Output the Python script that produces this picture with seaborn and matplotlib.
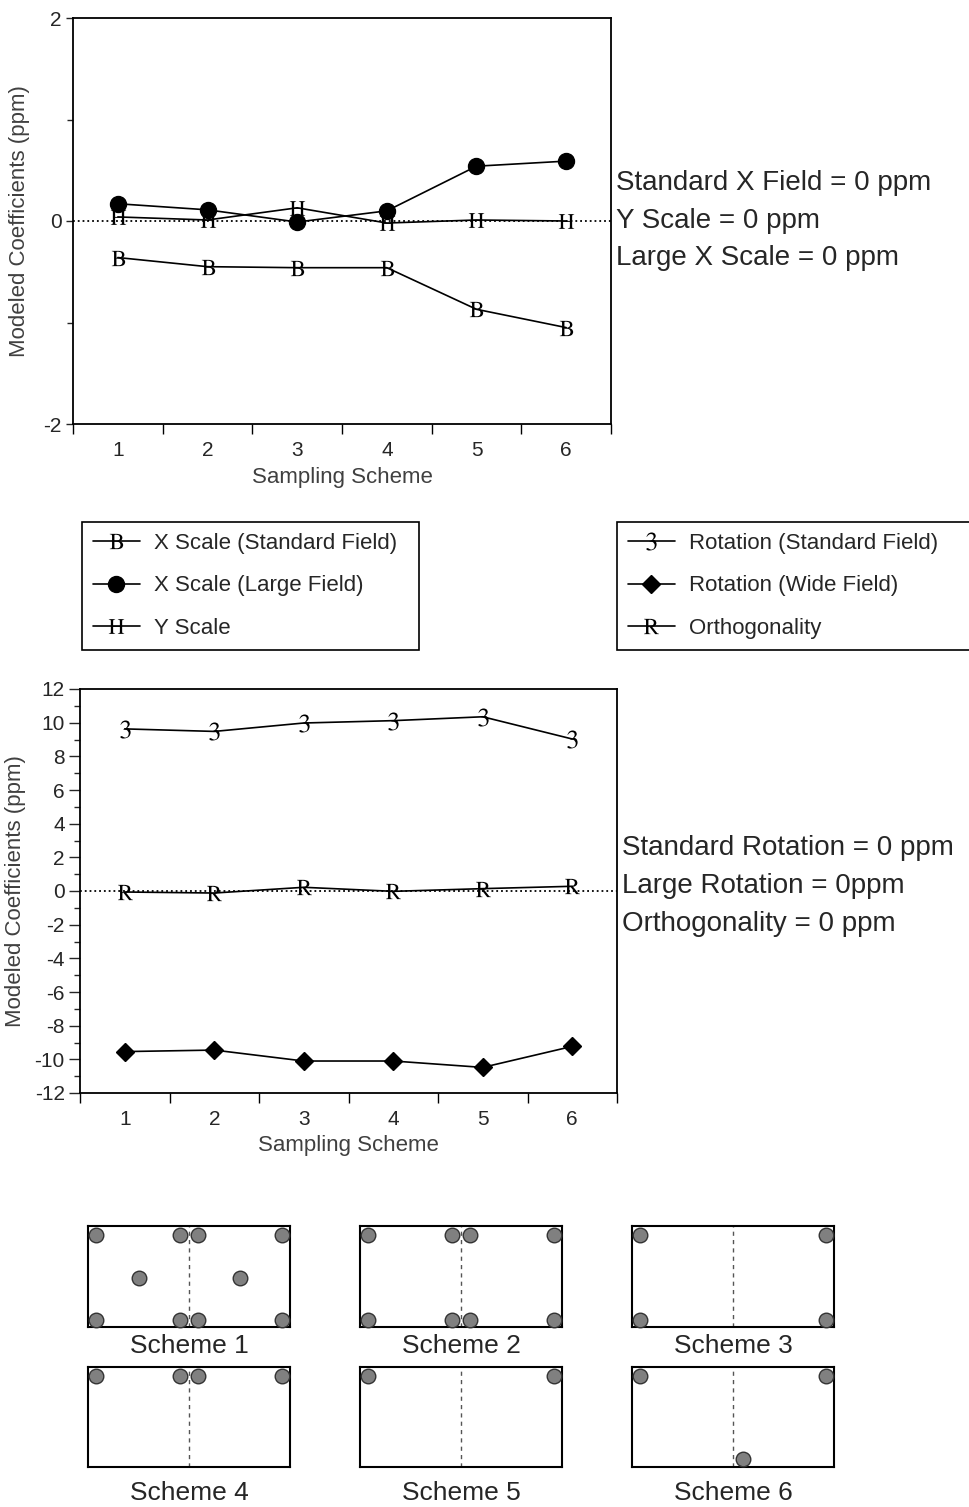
import matplotlib
matplotlib.use('Agg')
import matplotlib.pyplot as plt
import seaborn as sns

sns.set_theme(style='ticks')
plt.rcParams['font.family'] = ['Liberation Sans', 'DejaVu Sans']
plt.rcParams['mathtext.fontset'] = 'stix'
plt.rcParams['axes.unicode_minus'] = False

# data
schemes = [1, 2, 3, 4, 5, 6]
x_scale_std = [-0.36, -0.45, -0.46, -0.46, -0.87, -1.05]
x_scale_large = [0.17, 0.11, -0.01, 0.10, 0.54, 0.59]
y_scale = [0.04, 0.01, 0.13, -0.02, 0.01, 0.00]
rot_std = [9.63, 9.48, 9.98, 10.12, 10.35, 9.03]
rot_wide = [-9.54, -9.45, -10.10, -10.10, -10.48, -9.23]
ortho = [-0.06, -0.12, 0.22, -0.02, 0.14, 0.28]

top_labels = ['X Scale (Standard Field)', 'X Scale (Large Field)', 'Y Scale']
bottom_labels = ['Rotation (Standard Field)', 'Rotation (Wide Field)', 'Orthogonality']
top_notes = ['Standard X Field = 0 ppm', 'Y Scale = 0 ppm', 'Large X Scale = 0 ppm']
bottom_notes = ['Standard Rotation = 0 ppm', 'Large Rotation = 0ppm', 'Orthogonality = 0 ppm']

# sampling locations in each scheme (box 2 wide x 1 high, split at x=1)
s1_x = [0.08, 0.91, 1.09, 1.92, 0.50, 1.50, 0.08, 0.91, 1.09, 1.92]
s1_y = [0.91, 0.91, 0.91, 0.91, 0.49, 0.49, 0.07, 0.07, 0.07, 0.07]
s2_x = [0.08, 0.91, 1.09, 1.92, 0.08, 0.91, 1.09, 1.92]
s2_y = [0.91, 0.91, 0.91, 0.91, 0.07, 0.07, 0.07, 0.07]
s3_x = [0.08, 1.92, 0.08, 1.92]
s3_y = [0.91, 0.91, 0.07, 0.07]
s4_x = [0.08, 0.91, 1.09, 1.92]
s4_y = [0.91, 0.91, 0.91, 0.91]
s5_x = [0.08, 1.92]
s5_y = [0.91, 0.91]
s6_x = [0.08, 1.92, 1.10]
s6_y = [0.91, 0.91, 0.08]
scheme_names = ['Scheme 1', 'Scheme 2', 'Scheme 3', 'Scheme 4', 'Scheme 5', 'Scheme 6']

W, H = 969, 1507
fig = plt.figure(figsize=(W / 100, H / 100), dpi=100)


def box(l, t, r, b):
    return [l / W, 1 - b / H, (r - l) / W, (b - t) / H]


def line_panel(ax, series, markers, sizes, mews, ylim, major, minor, ticklen):
    ax.axhline(0, color='black', ls=':', lw=1.3, zorder=1)
    for vals, mk, ms, mw in zip(series, markers, sizes, mews):
        sns.lineplot(x=schemes, y=vals, ax=ax, color='black', lw=1.2,
                     marker=mk, markersize=ms, markeredgecolor='black',
                     markeredgewidth=mw, legend=False, zorder=3)
    ax.set_xlim(0.5, 6.5)
    ax.set_ylim(*ylim)
    ax.set_xticks([0.5, 1.5, 2.5, 3.5, 4.5, 5.5, 6.5], labels=[''] * 7)
    ax.set_xticks(schemes, labels=[str(s) for s in schemes], minor=True)
    ax.set_yticks(major)
    ax.set_yticks(minor, minor=True)
    ax.tick_params(axis='x', which='major', length=7, width=1, color='black')
    ax.tick_params(axis='x', which='minor', length=0, labelsize=15, pad=12)
    ax.tick_params(axis='y', which='major', length=ticklen, width=1, labelsize=15, pad=3)
    ax.tick_params(axis='y', which='minor', length=4, width=1)
    for sp in ax.spines.values():
        sp.set_color('black')
        sp.set_linewidth(1.3)
    ax.set_xlabel('Sampling Scheme', fontsize=16, color='#404040')
    ax.set_ylabel('Modeled Coefficients (ppm)', fontsize=16, color='#404040')


# top panel
ax1 = fig.add_axes(box(73, 18, 611, 424))
line_panel(ax1, [x_scale_std, x_scale_large, y_scale],
           [r'$\mathrm{B}$', 'o', r'$\mathrm{H}$'], [11, 11.5, 11], [0, 1, 0],
           (-2, 2), [-2, 0, 2], [-1, 1], 5)
ax1.xaxis.set_label_coords(0.5, -0.105)
ax1.yaxis.set_label_coords(-0.08, 0.5)

# bottom panel
ax2 = fig.add_axes(box(80, 689, 617, 1093))
line_panel(ax2, [rot_std, rot_wide, ortho],
           [r'$\mathrm{3}$', 'D', r'$\mathrm{R}$'], [13, 9, 11], [0, 1, 0],
           (-12, 12), list(range(-12, 13, 2)), list(range(-11, 12, 2)), 8)
ax2.xaxis.set_label_coords(0.5, -0.105)
ax2.yaxis.set_label_coords(-0.1, 0.5)

# legends
leg_kw = dict(loc='upper left', mode='expand', fontsize=16, frameon=True,
              fancybox=False, edgecolor='black', framealpha=1,
              borderpad=0.5, labelspacing=0.96, handlelength=2.1,
              handletextpad=0.65, borderaxespad=0)
lg1 = fig.legend(handles=ax1.lines[1:4], labels=top_labels,
                 bbox_to_anchor=(82 / W, 1 - 522 / H, (419 - 82) / W, 0), **leg_kw)
lg2 = fig.legend(handles=ax2.lines[1:4], labels=bottom_labels,
                 bbox_to_anchor=(617 / W, 1 - 522 / H, (985 - 617) / W, 0), **leg_kw)
for lg in (lg1, lg2):
    lg.get_frame().set_linewidth(1.2)

# notes beside the panels
for txt, yb in zip(top_notes, [190, 228, 265]):
    fig.text(616 / W, 1 - yb / H, txt, fontsize=20, va='baseline')
for txt, yb in zip(bottom_notes, [855, 893, 931]):
    fig.text(622 / W, 1 - yb / H, txt, fontsize=20, va='baseline')

# sampling scheme sketches
pts = [(s1_x, s1_y), (s2_x, s2_y), (s3_x, s3_y), (s4_x, s4_y), (s5_x, s5_y), (s6_x, s6_y)]
lefts = [88, 360, 632]
rows = [(1226, 1327, -0.19), (1367, 1467, -0.26)]
for i, ((xs, ys), name) in enumerate(zip(pts, scheme_names)):
    top, bot, ly = rows[i // 3]
    l = lefts[i % 3]
    ax = fig.add_axes(box(l, top, l + 202, bot))
    ax.axvline(1, color='#555555', ls=(0, (3, 3)), lw=1)
    sns.scatterplot(x=xs, y=ys, ax=ax, s=110, color='#808080',
                    edgecolor='#333333', linewidth=1, clip_on=False, zorder=3)
    ax.set_xlim(0, 2)
    ax.set_ylim(0, 1)
    ax.set_xticks([])
    ax.set_yticks([])
    for sp in ax.spines.values():
        sp.set_color('black')
        sp.set_linewidth(1.5)
    ax.text(0.5, ly, name, transform=ax.transAxes, ha='center', va='center', fontsize=19)

fig.savefig('out.png', dpi=100)
